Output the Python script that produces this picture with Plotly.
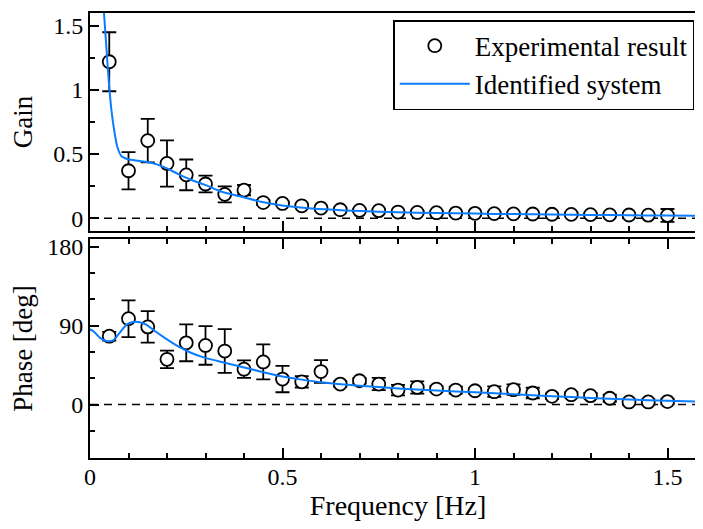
import plotly.graph_objects as go

# ---- data ----
freq = [0.05, 0.10, 0.15, 0.20, 0.25, 0.30, 0.35, 0.40, 0.45, 0.50,
        0.55, 0.60, 0.65, 0.70, 0.75, 0.80, 0.85, 0.90, 0.95, 1.00,
        1.05, 1.10, 1.15, 1.20, 1.25, 1.30, 1.35, 1.40, 1.45, 1.50]
gain = [1.22, 0.37, 0.605, 0.427, 0.338, 0.267, 0.186, 0.219, 0.122, 0.115,
        0.097, 0.079, 0.066, 0.061, 0.059, 0.048, 0.045, 0.043, 0.040, 0.038,
        0.036, 0.034, 0.033, 0.031, 0.030, 0.028, 0.026, 0.025, 0.024, 0.022]
gain_err = [0.23, 0.145, 0.17, 0.18, 0.12, 0.065, 0.063, 0.04, 0.02, 0.015,
            0.012, 0.01, 0.01, 0.01, 0.01, 0.01, 0.01, 0.01, 0.01, 0.01,
            0.01, 0.01, 0.01, 0.01, 0.01, 0.01, 0.01, 0.01, 0.01, 0.05]
phase = [78.1, 98.1, 88.7, 51.7, 70.5, 67.5, 61.1, 40.4, 48.7, 29.1,
         26.0, 37.7, 23.4, 27.2, 23.4, 16.6, 19.6, 17.7, 16.6, 15.8,
         14.7, 17.0, 13.2, 9.4, 11.3, 10.2, 7.2, 3.0, 3.0, 3.4]
phase_err = [5, 21, 18, 10, 21, 22, 25, 10, 20, 15,
             6.5, 13, 3, 3, 7, 6, 7, 3, 4, 3,
             6, 6, 6, 3, 3, 3, 4, 3, 3, 3]

fit_gain_f = [0.035, 0.0405, 0.044, 0.047, 0.051, 0.056, 0.063, 0.071, 0.082, 0.099,
              0.125, 0.159, 0.194, 0.228, 0.262, 0.297, 0.344, 0.396, 0.447, 0.499,
              0.576, 0.662, 0.748, 0.80, 0.90, 1.00, 1.10, 1.20, 1.30, 1.40, 1.50, 1.60]
fit_gain = [1.66, 1.42, 1.27, 1.14, 0.987, 0.834, 0.682, 0.555, 0.483, 0.460,
            0.448, 0.433, 0.397, 0.346, 0.300, 0.262, 0.204, 0.166, 0.127, 0.100,
            0.076, 0.061, 0.051, 0.046, 0.041, 0.036, 0.032, 0.029, 0.026, 0.023, 0.021, 0.019]

fit_phase_f = [0.0, 0.009, 0.026, 0.043, 0.060, 0.077, 0.095, 0.112, 0.129, 0.146,
               0.163, 0.194, 0.228, 0.262, 0.297, 0.331, 0.395, 0.45, 0.50, 0.55,
               0.60, 0.70, 0.80, 0.90, 1.00, 1.10, 1.20, 1.30, 1.40, 1.50, 1.60]
fit_phase = [86.0, 83.8, 76.2, 72.5, 73.2, 81.9, 91.3, 94.3, 94.0, 91.3,
             85.7, 76.2, 66.8, 59.2, 53.6, 49.8, 43.0, 37.0, 32.0, 28.5,
             25.5, 21.5, 18.5, 16.0, 14.0, 11.8, 9.6, 7.6, 5.7, 4.3, 3.2]

x_range = [0, 1.6]
gain_range = [-0.1, 1.6]
phase_range = [-61, 189]

BLUE = "#0A7CFF"
FONT = "Liberation Serif"

fig = go.Figure()

marker_style = dict(symbol="circle", size=13, color="white",
                    line=dict(color="black", width=1.8))

fig.add_trace(go.Scatter(
    x=freq, y=gain, mode="markers", name="Experimental result",
    marker=marker_style,
    error_y=dict(type="data", array=gain_err, color="black", thickness=1.8, width=7),
    xaxis="x", yaxis="y"))
fig.add_trace(go.Scatter(
    x=fit_gain_f, y=fit_gain, mode="lines", name="Identified system",
    line=dict(color=BLUE, width=2, shape="spline", smoothing=0.5),
    xaxis="x", yaxis="y"))
fig.add_trace(go.Scatter(
    x=freq, y=phase, mode="markers", showlegend=False,
    marker=marker_style,
    error_y=dict(type="data", array=phase_err, color="black", thickness=1.8, width=7),
    xaxis="x2", yaxis="y2"))
fig.add_trace(go.Scatter(
    x=fit_phase_f, y=fit_phase, mode="lines", showlegend=False,
    line=dict(color=BLUE, width=2, shape="spline", smoothing=0.6),
    xaxis="x2", yaxis="y2"))

for yref in ["y", "y2"]:
    fig.add_shape(type="line", xref="x domain" if yref == "y" else "x2 domain",
                  yref=yref, x0=0, x1=1, y0=0, y1=0, layer="below",
                  line=dict(color="black", width=1.5, dash="8px,6px"))

axis_common = dict(showline=True, linecolor="black", linewidth=2, showgrid=False,
                   zeroline=False, ticks="inside", tickcolor="black", tickwidth=1.5,
                   tickfont=dict(family=FONT, size=24, color="black"))

# the page body has an 8px default margin; margins below compensate for it
fig.update_layout(
    width=700, height=521,
    margin=dict(l=82, r=0, t=1, b=71),
    paper_bgcolor="white", plot_bgcolor="white",
    font=dict(family=FONT, color="black"),
    showlegend=True,
    legend=dict(x=0.981, xanchor="right", y=0.984, yanchor="top",
                bordercolor="black", borderwidth=1.5, bgcolor="white",
                font=dict(family=FONT, size=27, color="black"),
                itemwidth=70, tracegroupgap=0),
    xaxis=dict(**axis_common, domain=[0, 1], range=x_range, anchor="y",
               mirror=True, showticklabels=False, tick0=0, dtick=0.5, ticklen=10,
               minor=dict(dtick=0.1, tick0=0, ticks="inside", ticklen=5, tickcolor="black")),
    yaxis=dict(**axis_common, domain=[0.51, 1], range=gain_range, anchor="x",
               mirror="ticks", tick0=0, dtick=0.5, ticklen=9,
               minor=dict(dtick=0.25, tick0=0, ticks="inside", ticklen=5, tickcolor="black"),
               title=dict(text="Gain", font=dict(family=FONT, size=27, color="black"))),
    xaxis2=dict(**axis_common, domain=[0, 1], range=x_range, anchor="y2",
                mirror="ticks", tick0=0, dtick=0.5, ticklen=10, ticklabelstandoff=-4,
                minor=dict(dtick=0.1, tick0=0, ticks="inside", ticklen=5, tickcolor="black"),
                title=dict(text="Frequency [Hz]", standoff=4,
                           font=dict(family=FONT, size=28, color="black"))),
    yaxis2=dict(**axis_common, domain=[0, 0.492], range=phase_range, anchor="x2",
                mirror="ticks", tick0=0, dtick=90, ticklen=9,
                minor=dict(dtick=30, tick0=0, ticks="inside", ticklen=5, tickcolor="black"),
                title=dict(text="Phase [deg]", font=dict(family=FONT, size=27, color="black"))),
)

fig.write_html("out.html")
